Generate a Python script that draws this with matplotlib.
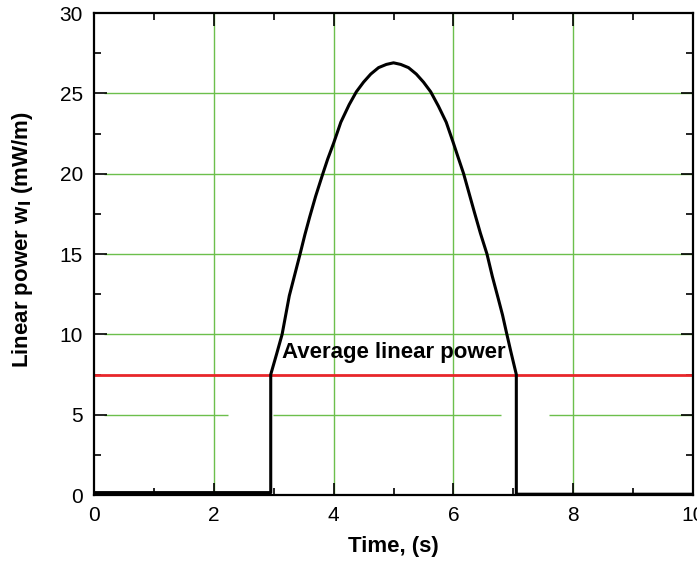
import matplotlib
matplotlib.use('Agg')
import matplotlib.pyplot as plt
from matplotlib.ticker import MultipleLocator

plt.rcParams['font.family'] = ['Liberation Sans', 'DejaVu Sans']

# power pulse
time_s = [0.0, 2.95, 2.95, 3.05, 3.14, 3.26, 3.35, 3.44, 3.52, 3.6, 3.7, 3.82, 3.9, 4.0,
          4.12, 4.26, 4.38, 4.5, 4.62, 4.75, 4.88, 5.0, 5.12, 5.25, 5.38, 5.5, 5.62,
          5.75, 5.88, 6.0, 6.08, 6.17, 6.26, 6.35, 6.45, 6.56, 6.65, 6.75, 6.82,
          6.88, 6.96, 7.05, 7.05, 10.0]
power = [0.15, 0.15, 7.5, 8.8, 10.0, 12.4, 13.7, 15.0, 16.2, 17.3, 18.6, 20.0, 20.9,
         21.9, 23.2, 24.3, 25.1, 25.7, 26.2, 26.6, 26.8, 26.9, 26.8, 26.6, 26.2, 25.7,
         25.1, 24.2, 23.2, 21.9, 21.0, 20.0, 18.8, 17.6, 16.3, 15.0, 13.6, 12.2, 11.2,
         10.2, 8.9, 7.5, 0.05, 0.05]
avg_power = 7.5
avg_label = 'Average linear power'

grid_x = [2, 4, 6, 8]
grid_y = [10, 15, 20, 25]
# the 5 mW/m grid line is broken in the original
grid5_segments = [(0.17, 2.23), (2.99, 6.8), (7.6, 10.0)]

green = '#6cbf4c'

fig = plt.figure(figsize=(6.97, 5.68), dpi=100)
ax = fig.add_axes([0.1349, 0.1285, 0.8594, 0.8486])

for gx in grid_x:
    ax.vlines(gx, 0, 30, color=green, lw=1.0, zorder=1)
for gy in grid_y:
    ax.hlines(gy, 0.17, 10, color=green, lw=1.0, zorder=1)
for a, b in grid5_segments:
    ax.hlines(5, a, b, color=green, lw=1.0, zorder=1)

ax.axhline(avg_power, color='#e8262a', lw=2.0, zorder=2)
ax.plot(time_s, power, color='black', lw=2.2, zorder=3)
ax.text(3.13, 8.85, avg_label, fontsize=16, fontweight='bold', va='center', ha='left', zorder=4)

ax.set_xlim(0, 10)
ax.set_ylim(0, 30)
ax.xaxis.set_major_locator(MultipleLocator(2))
ax.xaxis.set_minor_locator(MultipleLocator(1))
ax.yaxis.set_major_locator(MultipleLocator(5))
ax.yaxis.set_minor_locator(MultipleLocator(2.5))
ax.tick_params(which='both', direction='in', top=True, right=True, labelsize=15, width=1.2)
ax.tick_params(which='major', length=9, pad=8)
ax.tick_params(which='minor', length=5)
for s in ax.spines.values():
    s.set_linewidth(1.6)

ax.set_xlabel('Time, (s)', fontsize=16, fontweight='bold', labelpad=8)
ax.set_ylabel(r'Linear power w$_\mathbf{l}$ (mW/m)', fontsize=16, fontweight='bold')
ax.yaxis.set_label_coords(-0.098, 0.53)

fig.savefig('out.png', dpi=100)
